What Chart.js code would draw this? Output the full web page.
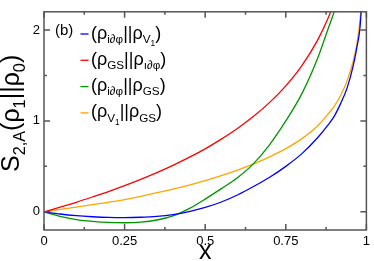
<!DOCTYPE html>
<html>
<head>
<meta charset="utf-8">
<script src="https://cdn.jsdelivr.net/npm/chart.js@4.4.1/dist/chart.umd.min.js"></script>
<style>
  body { margin: 0; background: #fff; }
  canvas { display: block; }
</style>
</head>
<body>
<canvas id="relEntropy" width="374" height="261"></canvas>
<script>
// values
const xs = [0, 0.05, 0.1, 0.15, 0.2, 0.25, 0.3, 0.35, 0.4, 0.45, 0.5, 0.55, 0.6, 0.65, 0.7, 0.75, 0.8, 0.85, 0.88, 0.9, 0.92, 0.94, 0.96, 0.97, 0.98, 0.99];
const blueVals = [0, -0.024, -0.042, -0.054, -0.062, -0.064, -0.06, -0.05, -0.03, 0.003, 0.048, 0.108, 0.185, 0.278, 0.38, 0.5, 0.64, 0.82, 0.95, 1.05, 1.19, 1.36, 1.62, 1.8, 2.02, 2.55];
const redVals = [0, 0.051, 0.105, 0.163, 0.223, 0.288, 0.357, 0.431, 0.511, 0.598, 0.693, 0.799, 0.916, 1.05, 1.204, 1.386, 1.609, 1.897, 2.12, 2.303, 2.53, 2.81, 3.22, 3.5, 3.9, 4.6];
const greenVals = [0, -0.05, -0.085, -0.105, -0.117, -0.12, -0.113, -0.09, -0.045, 0.035, 0.14, 0.255, 0.375, 0.53, 0.74, 1.0, 1.3, 1.7, 2.0, 2.2, 2.45, 2.75, 3.1, 3.4, 3.8, 4.5];
const orangeVals = [0, 0.026, 0.052, 0.079, 0.105, 0.133, 0.17, 0.21, 0.25, 0.293, 0.342, 0.397, 0.458, 0.527, 0.605, 0.695, 0.805, 0.95, 1.07, 1.16, 1.28, 1.44, 1.67, 1.84, 2.1, 2.6];

const seriesLabels = ["(ρ_{i∂φ}||ρ_{V_{1}})", "(ρ_{GS}||ρ_{ı∂φ})", "(ρ_{i∂φ}||ρ_{GS})", "(ρ_{V_{1}}||ρ_{GS})"];
const seriesColors = ["#0000ff", "#ff0000", "#009600", "#ffa500"];

const xTicks = [0, 0.25, 0.5, 0.75, 1];
const xMinor = [0.125, 0.375, 0.625, 0.875];
const yTicks = [0, 1, 2];
const yMinor = [0.5, 1.5];
const panelTag = "(b)";
const xTitle = "x";
const yTitle = "S_{2,A}(ρ_{1}||ρ_{0})";

const FONT = '"Liberation Sans", Arial, sans-serif';

// text with _{...} subscripts, drawn char by char
function drawRich(ctx, str, x, y, size) {
  const sizes = [size, size * 0.65, size * 0.46];
  const drops = [0, size * 0.24, size * 0.4];
  let level = 0;
  for (let i = 0; i < str.length; i++) {
    if (str[i] === "_" && str[i + 1] === "{") { level++; i++; continue; }
    if (str[i] === "}") { level--; continue; }
    ctx.font = sizes[level] + "px " + FONT;
    ctx.fillText(str[i], x, y + drops[level]);
    x += ctx.measureText(str[i]).width;
  }
  return x;
}

const frame = {
  id: "frame",
  afterDraw(chart) {
    const { ctx, chartArea: a, scales } = chart;
    ctx.save();
    ctx.strokeStyle = "#555";
    ctx.lineWidth = 1.5;
    ctx.strokeRect(a.left, a.top, a.right - a.left, a.bottom - a.top);

    ctx.beginPath();
    const xt = (v, len) => {
      const p = scales.x.getPixelForValue(v);
      ctx.moveTo(p, a.bottom); ctx.lineTo(p, a.bottom - len);
      ctx.moveTo(p, a.top); ctx.lineTo(p, a.top + len);
    };
    const yt = (v, len) => {
      const p = scales.y.getPixelForValue(v);
      ctx.moveTo(a.left, p); ctx.lineTo(a.left + len, p);
      ctx.moveTo(a.right, p); ctx.lineTo(a.right - len, p);
    };
    xTicks.forEach(v => xt(v, 6));
    xMinor.forEach(v => xt(v, 3));
    yTicks.forEach(v => yt(v, 6));
    yMinor.forEach(v => yt(v, 3));
    ctx.stroke();

    // legend
    ctx.fillStyle = "#000";
    ctx.textBaseline = "alphabetic";
    ctx.textAlign = "left";
    ctx.font = "15px " + FONT;
    ctx.fillText(panelTag, 55, 35);
    chart.data.datasets.forEach((ds, i) => {
      const base = 38.5 + i * 26.3;
      ctx.strokeStyle = ds.borderColor;
      ctx.lineWidth = 1.3;
      ctx.beginPath();
      ctx.moveTo(80.5, base - 4.5);
      ctx.lineTo(88.5, base - 4.5);
      ctx.stroke();
      ctx.fillStyle = "#000";
      drawRich(ctx, ds.label, 91, base, 18);
    });

    // axis titles
    ctx.textAlign = "center";
    ctx.font = "25px " + FONT;
    ctx.fillText(xTitle, (a.left + a.right) / 2, 259);

    ctx.textAlign = "left";
    ctx.translate(18.5, 172);
    ctx.rotate(-Math.PI / 2);
    drawRich(ctx, yTitle, 0, 0, 25);
    ctx.restore();
  }
};

const series = [blueVals, redVals, greenVals, orangeVals];

new Chart(document.getElementById("relEntropy"), {
  type: "line",
  data: {
    datasets: series.map((vals, i) => ({
      label: seriesLabels[i],
      data: xs.map((x, j) => ({ x: x, y: vals[j] })),
      borderColor: seriesColors[i],
      borderWidth: 1.3,
      pointRadius: 0,
      fill: false,
      cubicInterpolationMode: "monotone",
    })),
  },
  options: {
    responsive: false,
    animation: false,
    layout: { padding: { left: 0, right: 2, top: 1, bottom: 0 } },
    plugins: { legend: { display: false }, tooltip: { enabled: false } },
    scales: {
      x: {
        type: "linear",
        min: 0,
        max: 1,
        afterBuildTicks: (s) => { s.ticks = xTicks.map(v => ({ value: v })); },
        afterFit: (s) => { s.height = 31; },
        grid: { display: false, drawTicks: false },
        border: { display: false },
        ticks: {
          padding: 4,
          maxRotation: 0,
          autoSkip: false,
          color: "#000",
          font: { family: FONT, size: 13 },
          callback: (v) => String(v),
        },
      },
      y: {
        type: "linear",
        min: -0.2,
        max: 2.2,
        afterBuildTicks: (s) => { s.ticks = yTicks.map(v => ({ value: v })); },
        afterFit: (s) => { s.width = 44; },
        grid: { display: false, drawTicks: false },
        border: { display: false },
        ticks: {
          padding: 4,
          color: "#000",
          font: { family: FONT, size: 13 },
          callback: (v) => String(v),
        },
      },
    },
  },
  plugins: [frame],
});
</script>
</body>
</html>
